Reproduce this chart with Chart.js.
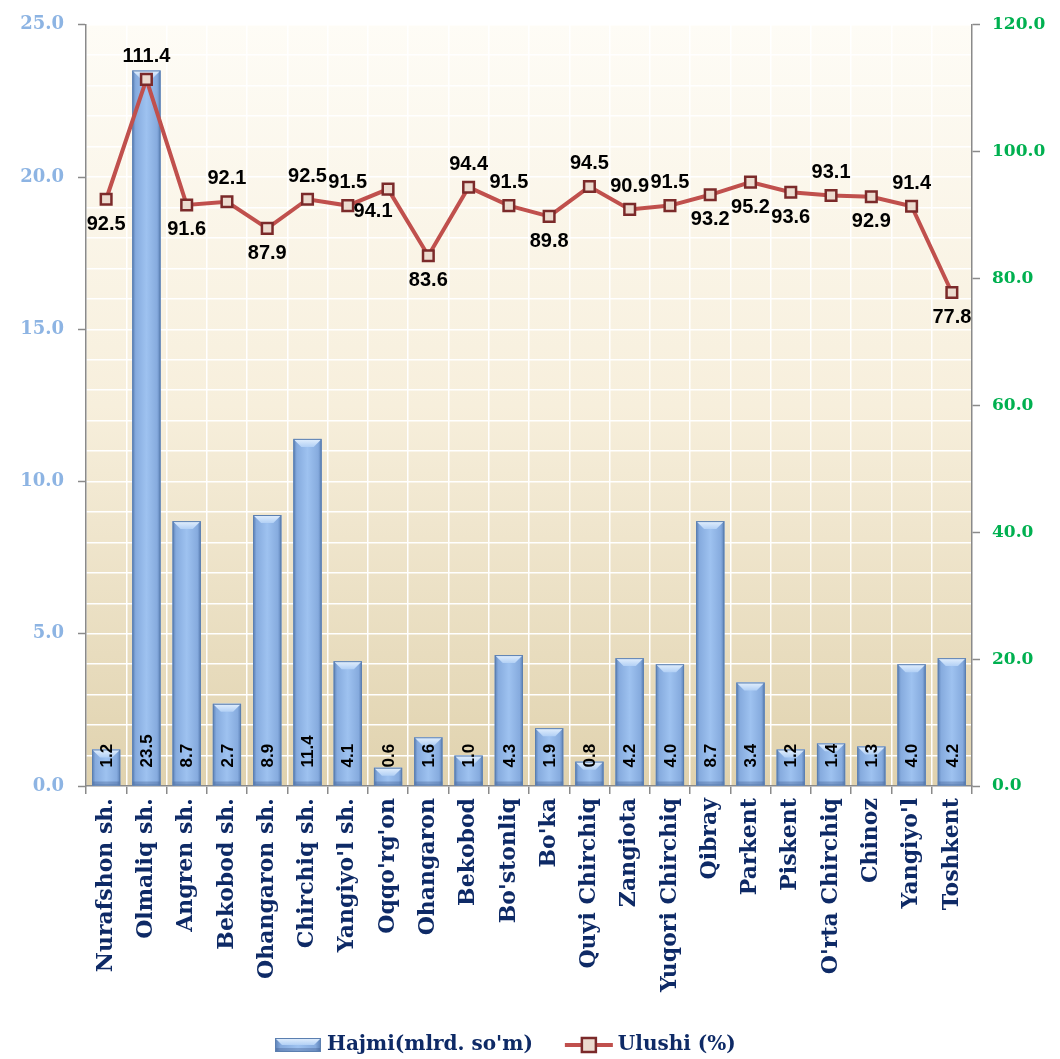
<!DOCTYPE html>
<html>
<head>
<meta charset="utf-8">
<script src="https://cdn.jsdelivr.net/npm/chart.js@4/dist/chart.umd.min.js"></script>
<style>
  html, body { margin: 0; padding: 0; background: #ffffff; }
  #wrap { width: 1060px; height: 1059px; position: relative; }
</style>
</head>
<body>
<div id="wrap"><canvas id="c" width="1060" height="1059"></canvas></div>
<script>
const categories = ["Nurafshon sh.", "Olmaliq sh.", "Angren sh.", "Bekobod sh.", "Ohangaron sh.", "Chirchiq sh.", "Yangiyo'l sh.", "Oqqo'rg'on", "Ohangaron", "Bekobod", "Bo'stonliq", "Bo'ka", "Quyi Chirchiq", "Zangiota", "Yuqori Chirchiq", "Qibray", "Parkent", "Piskent", "O'rta Chirchiq", "Chinoz", "Yangiyo'l", "Toshkent"];
const hajmi = [1.2, 23.5, 8.7, 2.7, 8.9, 11.4, 4.1, 0.6, 1.6, 1.0, 4.3, 1.9, 0.8, 4.2, 4.0, 8.7, 3.4, 1.2, 1.4, 1.3, 4.0, 4.2];
const ulushi = [92.5, 111.4, 91.6, 92.1, 87.9, 92.5, 91.5, 94.1, 83.6, 94.4, 91.5, 89.8, 94.5, 90.9, 91.5, 93.2, 95.2, 93.6, 93.1, 92.9, 91.4, 77.8];
const ulushiLabelSide = ["below", "above", "below", "above", "below", "above", "above", "belowLeft", "below", "above", "above", "below", "above", "above", "above", "below", "below", "below", "above", "below", "above", "below"];
const leftTicks = [0, 5, 10, 15, 20, 25];
const rightTicks = [0, 20, 40, 60, 80, 100, 120];
const seriesNames = ["Hajmi(mlrd. so'm)", "Ulushi (%)"];

const NAVY = '#0e2a66';
const LINE = '#c0504d';
const MARK_BORDER = '#7b2a2a';
const SERIF = '"DejaVu Serif", serif';
const SANS = '"Liberation Sans", Arial, sans-serif';

const bgPlugin = {
  id: 'bg',
  beforeDraw(chart) {
    const { ctx, chartArea: a } = chart;
    const g = ctx.createLinearGradient(0, a.top, 0, a.bottom);
    g.addColorStop(0, '#fefcf6');
    g.addColorStop(0.5, '#f7efdc');
    g.addColorStop(1, '#e0d2ae');
    ctx.save(); ctx.fillStyle = g; ctx.fillRect(a.left, a.top, a.right - a.left, a.bottom - a.top); ctx.restore();
  }
};

function drawBevelBar(ctx, l, t, w, h) {
  const r = l + w, b = t + h;
  const g = ctx.createLinearGradient(l, 0, r, 0);
  g.addColorStop(0, '#5a7fb5'); g.addColorStop(0.12, '#86abde'); g.addColorStop(0.5, '#9ec2f0');
  g.addColorStop(0.88, '#86abde'); g.addColorStop(1, '#5a7fb5');
  ctx.fillStyle = g; ctx.fillRect(l, t, w, h);
  const bv = Math.min(8, h / 2);
  const tg = ctx.createLinearGradient(0, t, 0, t + bv);
  tg.addColorStop(0, '#e4f0fd'); tg.addColorStop(1, '#b2d0f5');
  ctx.fillStyle = tg;
  ctx.beginPath(); ctx.moveTo(l, t); ctx.lineTo(r, t); ctx.lineTo(r - bv, t + bv); ctx.lineTo(l + bv, t + bv); ctx.closePath(); ctx.fill();
  ctx.fillStyle = 'rgba(60,90,140,0.35)';
  ctx.fillRect(l, b - Math.min(4, h / 3), w, Math.min(4, h / 3));
  ctx.strokeStyle = '#5b7fb0'; ctx.lineWidth = 1;
  ctx.strokeRect(l + 0.5, t + 0.5, w - 1, h - 1);
}

const bevelPlugin = {
  id: 'bevel',
  afterDatasetDraw(chart, args) {
    if (args.index !== 0) return;
    const ctx = chart.ctx;
    args.meta.data.forEach(el => {
      ctx.save();
      drawBevelBar(ctx, el.x - el.width / 2, el.y, el.width, el.base - el.y);
      ctx.restore();
    });
  }
};

const labelPlugin = {
  id: 'labels',
  afterDatasetsDraw(chart) {
    const ctx = chart.ctx;
    const barMeta = chart.getDatasetMeta(0);
    ctx.save();
    ctx.fillStyle = '#000';
    ctx.font = 'bold 17px ' + SANS;
    barMeta.data.forEach((el, i) => {
      ctx.save();
      ctx.translate(el.x, el.base - 18);
      ctx.rotate(-Math.PI / 2);
      ctx.textAlign = 'left'; ctx.textBaseline = 'middle';
      ctx.fillText(hajmi[i].toFixed(1), 0, 1);
      ctx.restore();
    });
    const lineMeta = chart.getDatasetMeta(1);
    ctx.font = 'bold 20px ' + SANS;
    ctx.textAlign = 'center'; ctx.textBaseline = 'middle';
    lineMeta.data.forEach((el, i) => {
      const side = ulushiLabelSide[i];
      let dx = 0, dy = side === 'above' ? -23 : 25;
      if (side === 'belowLeft') { dx = -15; dy = 22; }
      ctx.fillText(ulushi[i].toFixed(1), el.x + dx, el.y + dy);
    });
    ctx.restore();
  }
};

const legendPlugin = {
  id: 'customLegend',
  afterDraw(chart) {
    const ctx = chart.ctx;
    const cy = 1045;
    ctx.save();
    ctx.font = 'bold 20px ' + SERIF;
    ctx.textBaseline = 'middle'; ctx.textAlign = 'left';
    const w1 = ctx.measureText(seriesNames[0]).width;
    let x = 275;
    drawBevelBar(ctx, x, cy - 7, 46, 14);
    x += 52;
    ctx.fillStyle = NAVY;
    ctx.fillText(seriesNames[0], x, cy);
    x += w1 + 32;
    ctx.strokeStyle = LINE; ctx.lineWidth = 4;
    ctx.beginPath(); ctx.moveTo(x, cy); ctx.lineTo(x + 48, cy); ctx.stroke();
    ctx.fillStyle = '#ecdbcf'; ctx.fillRect(x + 17, cy - 7, 14, 14);
    ctx.strokeStyle = MARK_BORDER; ctx.lineWidth = 2.5; ctx.strokeRect(x + 17, cy - 7, 14, 14);
    x += 53;
    ctx.fillStyle = NAVY;
    ctx.fillText(seriesNames[1], x, cy);
    ctx.restore();
  }
};

const ctx = document.getElementById('c').getContext('2d');
new Chart(ctx, {
  data: {
    labels: categories,
    datasets: [
      {
        type: 'bar', label: seriesNames[0], data: hajmi, yAxisID: 'y', order: 2,
        backgroundColor: '#93b8e8', borderWidth: 0,
        barPercentage: 0.7, categoryPercentage: 1.0
      },
      {
        type: 'line', label: seriesNames[1], data: ulushi, yAxisID: 'y2', order: 1,
        borderColor: LINE, borderWidth: 4, tension: 0,
        pointStyle: 'rect', pointRadius: 7.5, pointBorderWidth: 2.5,
        pointBackgroundColor: '#ecdbcf', pointBorderColor: MARK_BORDER
      }
    ]
  },
  options: {
    responsive: false,
    animation: false,
    events: [],
    layout: { padding: { top: 22, bottom: 41, left: 0, right: 0 } },
    plugins: {
      tooltip: { enabled: false },
      legend: { display: false }
    },
    scales: {
      x: {
        offset: true,
        grid: { offset: true, color: '#ffffff', lineWidth: 1.5, tickColor: '#8a8a8a', tickLength: 8, tickWidth: 1.5 },
        border: { color: '#8a8a8a', width: 1.5 },
        ticks: { color: NAVY, font: { family: SERIF, size: 22, weight: 'bold' }, minRotation: 90, maxRotation: 90, autoSkip: false, padding: 4 },
        afterFit(s) { s.height = 232; }
      },
      yGrid: {
        position: 'left', min: 0, max: 25,
        grid: { color: '#ffffff', lineWidth: 1.5, drawTicks: false },
        border: { display: false },
        ticks: { display: false, stepSize: 1 },
        afterFit(s) { s.width = 0; }
      },
      y: {
        position: 'left', min: 0, max: 25,
        grid: { drawOnChartArea: false, color: '#8a8a8a', tickLength: 8, tickWidth: 1.5 },
        border: { color: '#8a8a8a', width: 1.5 },
        afterBuildTicks(s) { s.ticks = leftTicks.map(v => ({ value: v })); },
        ticks: { color: '#8db4e3', font: { family: SERIF, size: 18, weight: 'bold' }, padding: 14, callback: v => Number(v).toFixed(1) },
        afterFit(s) { s.width = 86; }
      },
      y2: {
        position: 'right', min: 0, max: 120,
        grid: { drawOnChartArea: false, color: '#8a8a8a', tickLength: 8, tickWidth: 1.5 },
        border: { color: '#8a8a8a', width: 1.5 },
        afterBuildTicks(s) { s.ticks = rightTicks.map(v => ({ value: v })); },
        ticks: { color: '#00b050', font: { family: SERIF, size: 17, weight: 'bold' }, padding: 12, callback: v => Number(v).toFixed(1) },
        afterFit(s) { s.width = 88; }
      }
    }
  },
  plugins: [bgPlugin, bevelPlugin, labelPlugin, legendPlugin]
});
</script>
</body>
</html>
